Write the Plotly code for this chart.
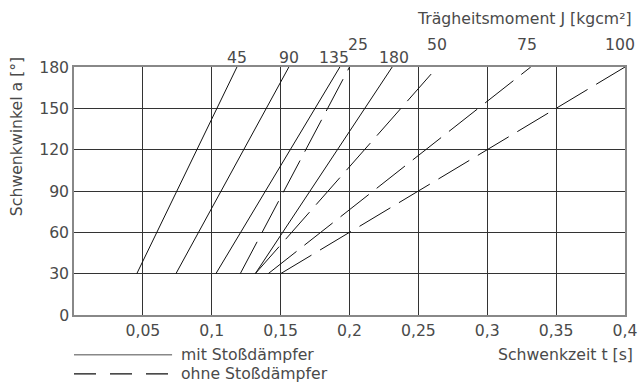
import plotly.graph_objects as go

# --- data ---
mit_J = [45, 90, 135, 180]
mit_t_start = [0.0456, 0.074, 0.103, 0.1316]
mit_t_end = [0.1183, 0.156, 0.193, 0.231]

ohne_J = [25, 50, 75, 100]
ohne_t_start = [0.1207, 0.1316, 0.141, 0.150]
ohne_t_end = [0.200, 0.2638, 0.3316, 0.400]

angle_start = 30
angle_end = 180

x_ticks = [0.05, 0.1, 0.15, 0.2, 0.25, 0.3, 0.35, 0.4]
x_ticktext = ["0,05", "0,1", "0,15", "0,2", "0,25", "0,3", "0,35", "0,4"]
y_ticks = [0, 30, 60, 90, 120, 150, 180]

FONT = "DejaVu Sans"
FS = 15.7
TXT = "#4a4a4a"

fig = go.Figure()

for j, t0, t1 in zip(mit_J, mit_t_start, mit_t_end):
    fig.add_trace(go.Scatter(x=[t0, t1], y=[angle_start, angle_end], mode="lines",
                             line=dict(color="#111", width=1), showlegend=False,
                             hoverinfo="skip"))
for j, t0, t1 in zip(ohne_J, ohne_t_start, ohne_t_end):
    fig.add_trace(go.Scatter(x=[t0, t1], y=[angle_start, angle_end], mode="lines",
                             line=dict(color="#111", width=1, dash="36px,10px"),
                             showlegend=False, hoverinfo="skip"))

annotations = []
shapes = []
# labels for solid lines
label_shift = {45: 0, 90: 0, 135: -6, 180: 2}
for j, t1 in zip(mit_J, mit_t_end):
    annotations.append(dict(x=t1, y=angle_end, xref="x", yref="y", text=str(j),
                            showarrow=False, yanchor="middle", yshift=10,
                            xshift=label_shift[j],
                            font=dict(family=FONT, size=FS, color=TXT)))
# labels + ticks for dashed lines
dash_shift = {25: 8, 50: 0, 75: -4, 100: -5}
for j, t1 in zip(ohne_J, ohne_t_end):
    shapes.append(dict(type="line", xref="x", yref="y", ysizemode="pixel",
                       yanchor=angle_end, x0=t1, x1=t1, y0=0, y1=15,
                       line=dict(color="#444", width=1.5)))
    annotations.append(dict(x=t1, y=angle_end, xref="x", yref="y", text=str(j),
                            showarrow=False, yanchor="middle", yshift=23,
                            xshift=dash_shift[j],
                            font=dict(family=FONT, size=FS, color=TXT)))

# axis titles
annotations.append(dict(x=1.016, y=1.195, xref="paper", yref="paper",
                        text="Trägheitsmoment J [kgcm²]", showarrow=False,
                        xanchor="right", yanchor="middle",
                        font=dict(family=FONT, size=FS, color=TXT)))
annotations.append(dict(x=1.018, y=-0.16, xref="paper", yref="paper",
                        text="Schwenkzeit t [s]", showarrow=False,
                        xanchor="right", yanchor="middle",
                        font=dict(family=FONT, size=FS, color=TXT)))
annotations.append(dict(x=-0.104, y=0.72, xref="paper", yref="paper",
                        text="Schwenkwinkel a [°]", showarrow=False, textangle=-90,
                        xanchor="center", yanchor="middle",
                        font=dict(family=FONT, size=FS, color=TXT)))

# legend (drawn manually)
shapes.append(dict(type="line", xref="paper", yref="paper", x0=0, x1=0.178,
                   y0=-0.16, y1=-0.16, line=dict(color="#888", width=1.5)))
shapes.append(dict(type="line", xref="paper", yref="paper", x0=0, x1=0.178,
                   y0=-0.237, y1=-0.237, line=dict(color="#111", width=1.2, dash="22px,14px")))
annotations.append(dict(x=0.19, y=-0.16, xref="paper", yref="paper",
                        text="mit Stoßdämpfer", showarrow=False, xanchor="left",
                        yanchor="middle", font=dict(family=FONT, size=FS, color=TXT)))
annotations.append(dict(x=0.19, y=-0.237, xref="paper", yref="paper",
                        text="ohne Stoßdämpfer", showarrow=False, xanchor="left",
                        yanchor="middle", font=dict(family=FONT, size=FS, color=TXT)))

fig.update_layout(
    width=642, height=384,
    margin=dict(l=74, r=17, t=67, b=69, autoexpand=False),
    paper_bgcolor="white", plot_bgcolor="white",
    annotations=annotations, shapes=shapes,
    font=dict(family=FONT, size=FS, color=TXT),
)
fig.update_xaxes(range=[0, 0.4], tickvals=x_ticks, ticktext=x_ticktext,
                 showgrid=True, gridcolor="#333", gridwidth=1, automargin=False,
                 showline=True, linecolor="#888", linewidth=1.5, mirror=True,
                 ticks="", zeroline=False, tickfont=dict(family=FONT, size=FS, color=TXT))
fig.update_yaxes(range=[0, 180], tickvals=y_ticks, automargin=False,
                 showgrid=True, gridcolor="#333", gridwidth=1,
                 showline=True, linecolor="#888", linewidth=1.5, mirror=True,
                 ticks="", zeroline=False, tickfont=dict(family=FONT, size=FS, color=TXT))

fig.write_html("out.html")
